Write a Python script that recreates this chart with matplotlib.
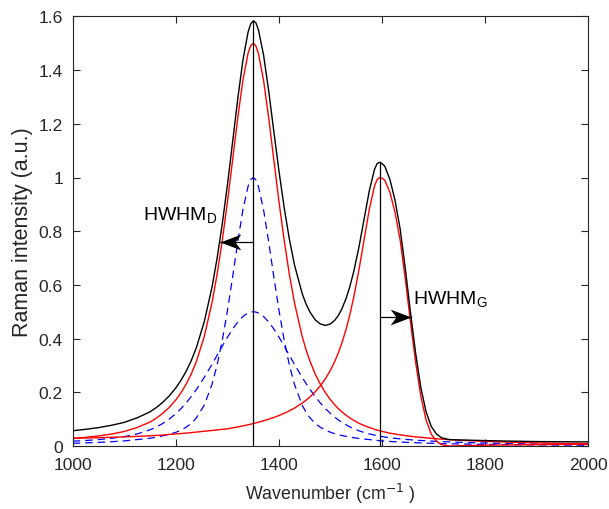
import numpy as np
import matplotlib.pyplot as plt
from matplotlib.path import Path

plt.rcParams['font.family'] = ['Liberation Sans', 'DejaVu Sans']

# wavenumber grid (cm-1) and values
wavenumber = [1000, 1025, 1050, 1075, 1100, 1125, 1150, 1162, 1175, 1187,
              1200, 1210, 1220, 1230, 1240, 1255, 1270, 1280, 1290, 1300,
              1310, 1320, 1330, 1340, 1345, 1350, 1355, 1360, 1370, 1380,
              1390, 1400, 1410, 1420, 1430, 1445, 1452, 1460, 1470, 1480,
              1490, 1500, 1508, 1515, 1522, 1530, 1537, 1545, 1555, 1565,
              1575, 1585, 1590, 1595, 1600, 1605, 1615, 1625, 1635, 1645,
              1655, 1665, 1675, 1685, 1695, 1705, 1715, 1730, 1750, 1800,
              1850, 1900, 1950, 2000]

# narrow D component (blue dashed)
d_narrow = [0.010, 0.0116, 0.0135, 0.016, 0.019, 0.024, 0.029, 0.033, 0.038, 0.0434,
            0.051, 0.0591, 0.070, 0.0842, 0.105, 0.152, 0.229, 0.302, 0.394, 0.504,
            0.629, 0.760, 0.880, 0.967, 0.9917, 1.000, 0.9917, 0.967, 0.880, 0.760,
            0.629, 0.504, 0.394, 0.302, 0.229, 0.152, 0.1269, 0.105, 0.0842, 0.070,
            0.0591, 0.051, 0.046, 0.042, 0.039, 0.036, 0.0334, 0.031, 0.028, 0.026,
            0.024, 0.022, 0.021, 0.020, 0.019, 0.0185, 0.017, 0.016, 0.015, 0.014,
            0.013, 0.0123, 0.0116, 0.0109, 0.0103, 0.0097, 0.0092, 0.0085, 0.0077, 0.0061,
            0.005, 0.0041, 0.0034, 0.0029]

# broad D component (blue dashed)
d_broad = [0.0178, 0.0206, 0.024, 0.0286, 0.0351, 0.045, 0.0604, 0.0706, 0.0844, 0.100,
           0.1207, 0.1393, 0.1606, 0.1845, 0.211, 0.2554, 0.304, 0.338, 0.372, 0.405,
           0.4356, 0.462, 0.4825, 0.4955, 0.4989, 0.500, 0.4989, 0.4955, 0.4825, 0.462,
           0.4356, 0.405, 0.372, 0.338, 0.304, 0.2554, 0.234, 0.211, 0.1845, 0.1606,
           0.1393, 0.1207, 0.1075, 0.0972, 0.088, 0.0787, 0.0716, 0.0644, 0.0567, 0.0503,
           0.045, 0.0405, 0.0386, 0.0368, 0.0351, 0.0336, 0.0309, 0.0286, 0.0266, 0.0248,
           0.0232, 0.0218, 0.0206, 0.0195, 0.0183, 0.0174, 0.0165, 0.0153, 0.0139, 0.0111,
           0.0091, 0.0075, 0.0064, 0.0054]

# D band (red)
d_band = [0.0278, 0.0322, 0.0375, 0.0446, 0.0541, 0.069, 0.0894, 0.1036, 0.1224, 0.1434,
          0.1717, 0.1984, 0.2306, 0.2687, 0.316, 0.4074, 0.533, 0.640, 0.766, 0.909,
          1.0646, 1.222, 1.3625, 1.4625, 1.4906, 1.500, 1.4906, 1.4625, 1.3625, 1.222,
          1.0646, 0.909, 0.766, 0.640, 0.533, 0.4074, 0.3609, 0.316, 0.2687, 0.2306,
          0.1984, 0.1717, 0.1535, 0.1392, 0.127, 0.1147, 0.105, 0.0954, 0.0847, 0.0763,
          0.069, 0.0625, 0.0596, 0.0568, 0.0541, 0.0521, 0.0479, 0.0446, 0.0416, 0.0388,
          0.0362, 0.0341, 0.0322, 0.0304, 0.0286, 0.0271, 0.0257, 0.0238, 0.0216, 0.0172,
          0.0141, 0.0116, 0.0098, 0.0083]

# G band (red)
g_band = [0.029, 0.030, 0.031, 0.0325, 0.034, 0.036, 0.038, 0.0395, 0.041, 0.043,
          0.045, 0.0465, 0.048, 0.050, 0.052, 0.055, 0.058, 0.060, 0.062, 0.064,
          0.0674, 0.0711, 0.0749, 0.079, 0.0813, 0.0836, 0.086, 0.0885, 0.0939, 0.0999,
          0.1063, 0.1137, 0.1217, 0.1309, 0.1413, 0.1598, 0.170, 0.1829, 0.2016, 0.2239,
          0.2507, 0.2833, 0.3147, 0.3468, 0.3843, 0.4346, 0.4865, 0.5553, 0.6562, 0.7693,
          0.8811, 0.9671, 0.9916, 1.000, 0.997, 0.990, 0.945, 0.870, 0.765, 0.620,
          0.460, 0.310, 0.185, 0.098, 0.045, 0.018, 0.005, 0.000, 0.001, 0.003,
          0.004, 0.005, 0.006, 0.007]

# total spectrum (black)
total = [0.0568, 0.0622, 0.0685, 0.0771, 0.0881, 0.105, 0.1274, 0.1431, 0.1634, 0.1864,
         0.2167, 0.2449, 0.2786, 0.3187, 0.368, 0.4624, 0.591, 0.700, 0.828, 0.973,
         1.132, 1.2931, 1.4374, 1.5415, 1.5719, 1.5836, 1.5766, 1.551, 1.4564, 1.3219,
         1.1709, 1.0227, 0.8877, 0.7709, 0.6743, 0.5672, 0.5309, 0.4989, 0.4703, 0.4545,
         0.4491, 0.455, 0.4682, 0.486, 0.5113, 0.5493, 0.5915, 0.6507, 0.7409, 0.8456,
         0.9501, 1.0296, 1.0512, 1.0568, 1.0511, 1.0421, 0.9929, 0.9146, 0.8066, 0.6588,
         0.4962, 0.3441, 0.2172, 0.1284, 0.0736, 0.0451, 0.0307, 0.0238, 0.0226, 0.0202,
         0.0181, 0.0166, 0.0158, 0.0153]

peak_pos = [1350, 1595]
hwhm_d = [1350, 1285, 0.759]   # start x, tip x, y
hwhm_g = [1595, 1655, 0.482]

fig = plt.figure(figsize=(6.09, 5.10), dpi=100)
ax = fig.add_axes([0.1194, 0.1235, 0.8469, 0.8424])

dash = (0, (6, 4))
ax.plot(wavenumber, d_narrow, color='#0000ff', lw=0.9, linestyle=dash)
ax.plot(wavenumber, d_broad, color='#0000ff', lw=0.9, linestyle=dash)
ax.plot(wavenumber, d_band, color='#ff0000', lw=1.0)
ax.plot(wavenumber, g_band, color='#ff0000', lw=1.0)
ax.plot(wavenumber, total, color='black', lw=1.0)

# peak position lines
for p in peak_pos:
    top = total[wavenumber.index(p)]
    ax.plot([p, p], [0, top], color='black', lw=0.9)

# HWHM arrows with notched heads (tip sits at the marker origin)
head_left = Path([(0, 0), (1, 0.38), (0.72, 0), (1, -0.38), (0, 0)],
                 [Path.MOVETO, Path.LINETO, Path.LINETO, Path.LINETO, Path.CLOSEPOLY])
head_right = Path([(0, 0), (-1, 0.38), (-0.72, 0), (-1, -0.38), (0, 0)],
                  [Path.MOVETO, Path.LINETO, Path.LINETO, Path.LINETO, Path.CLOSEPOLY])
for (x0, x1, yy), head in [(hwhm_d, head_left), (hwhm_g, head_right)]:
    ax.plot([x0, x1], [yy, yy], color='black', lw=0.9)
    ax.plot([x1], [yy], marker=head, markersize=30, color='black', mew=0)

ax.text(1136, 0.842, 'HWHM$_\\mathregular{D}$', fontsize=14, va='baseline', ha='left')
ax.text(1660, 0.529, 'HWHM$_\\mathregular{G}$', fontsize=14, va='baseline', ha='left')

ax.set_xlim(1000, 2000)
ax.set_ylim(0, 1.6)
ax.set_xticks([1000, 1200, 1400, 1600, 1800, 2000])
ax.set_yticks([0, 0.2, 0.4, 0.6, 0.8, 1.0, 1.2, 1.4, 1.6])
ax.set_yticklabels(['0', '0.2', '0.4', '0.6', '0.8', '1', '1.2', '1.4', '1.6'])

ax.tick_params(direction='in', length=5, width=0.8, top=True, right=True,
               labelsize=12.6, colors='#262626')
ax.tick_params(axis='x', pad=8)
ax.tick_params(axis='y', pad=7)
for s in ax.spines.values():
    s.set_color('#262626')
    s.set_linewidth(0.8)

ax.set_xlabel('Wavenumber (cm$^{-1}$ )', fontsize=12.8, color='#262626', labelpad=6)
ax.set_ylabel('Raman intensity (a.u.)', fontsize=15.5, color='#262626', labelpad=4)

fig.savefig('out.png', dpi=100)
